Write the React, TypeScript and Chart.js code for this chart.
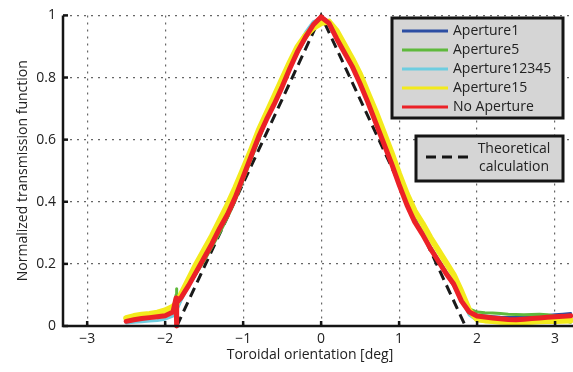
import { useEffect, useRef } from "react";
import { Chart, registerables } from "chart.js";
Chart.register(...registerables);

const FONT = '"Open Sans", "Noto Sans", "DejaVu Sans", sans-serif';

const angles = [-2.5, -2.4, -2.3, -2.2, -2.1, -2.0, -1.9, -1.86, -1.855, -1.85, -1.8, -1.7, -1.6, -1.5, -1.4, -1.3, -1.2, -1.1, -1.0, -0.9, -0.8, -0.7, -0.6, -0.5, -0.4, -0.3, -0.2, -0.1, 0, 0.1, 0.2, 0.3, 0.4, 0.5, 0.6, 0.7, 0.8, 0.9, 1.0, 1.1, 1.2, 1.3, 1.4, 1.5, 1.6, 1.7, 1.8, 1.9, 2.0, 2.1, 2.2, 2.3, 2.4, 2.5, 2.6, 2.7, 2.8, 2.9, 3.0, 3.1, 3.2];

const aperture1 = [0.017, 0.021, 0.025, 0.028, 0.031, 0.035, 0.045, 0.05, 0.052, 0.055, 0.085, 0.13, 0.17, 0.22, 0.27, 0.32, 0.365, 0.42, 0.48, 0.54, 0.605, 0.665, 0.715, 0.77, 0.83, 0.885, 0.935, 0.975, 0.995, 0.98, 0.93, 0.885, 0.84, 0.785, 0.725, 0.66, 0.595, 0.53, 0.465, 0.4, 0.345, 0.3, 0.25, 0.21, 0.17, 0.13, 0.08, 0.045, 0.034, 0.032, 0.03, 0.028, 0.027, 0.027, 0.028, 0.03, 0.032, 0.034, 0.036, 0.038, 0.04];

const aperture5 = [0.016, 0.02, 0.024, 0.027, 0.03, 0.034, 0.045, 0.1, 0.12, 0.1, 0.095, 0.13, 0.17, 0.21, 0.255, 0.3, 0.35, 0.405, 0.47, 0.535, 0.6, 0.665, 0.72, 0.775, 0.83, 0.88, 0.925, 0.965, 0.99, 0.97, 0.925, 0.88, 0.835, 0.78, 0.72, 0.66, 0.595, 0.53, 0.46, 0.4, 0.34, 0.3, 0.255, 0.215, 0.175, 0.14, 0.09, 0.055, 0.045, 0.043, 0.042, 0.04, 0.038, 0.037, 0.036, 0.037, 0.038, 0.036, 0.032, 0.02, 0.012];

const aperture12345 = [0.01, 0.012, 0.014, 0.016, 0.018, 0.022, 0.032, 0.045, 0.047, 0.05, 0.08, 0.13, 0.18, 0.225, 0.27, 0.32, 0.37, 0.425, 0.49, 0.55, 0.615, 0.67, 0.73, 0.79, 0.845, 0.9, 0.945, 0.98, 0.99, 0.975, 0.93, 0.88, 0.835, 0.785, 0.73, 0.665, 0.6, 0.535, 0.465, 0.4, 0.34, 0.3, 0.255, 0.215, 0.175, 0.14, 0.085, 0.035, 0.018, 0.015, 0.014, 0.014, 0.014, 0.015, 0.016, 0.017, 0.018, 0.019, 0.02, 0.021, 0.022];

const aperture15 = [0.025, 0.032, 0.036, 0.039, 0.043, 0.05, 0.062, 0.072, 0.074, 0.077, 0.1, 0.15, 0.2, 0.245, 0.29, 0.34, 0.39, 0.445, 0.505, 0.565, 0.63, 0.685, 0.74, 0.795, 0.85, 0.9, 0.935, 0.96, 0.975, 0.98, 0.95, 0.905, 0.86, 0.81, 0.75, 0.69, 0.625, 0.56, 0.49, 0.425, 0.37, 0.33, 0.285, 0.245, 0.205, 0.165, 0.11, 0.05, 0.022, 0.018, 0.016, 0.014, 0.013, 0.012, 0.013, 0.014, 0.015, 0.016, 0.016, 0.017, 0.018];

const noAperture = [0.015, 0.02, 0.024, 0.027, 0.03, 0.033, 0.045, 0.09, 0.0, 0.075, 0.09, 0.13, 0.175, 0.22, 0.265, 0.315, 0.36, 0.415, 0.48, 0.545, 0.61, 0.665, 0.715, 0.77, 0.83, 0.885, 0.93, 0.97, 0.995, 0.975, 0.925, 0.88, 0.835, 0.78, 0.72, 0.655, 0.59, 0.525, 0.455, 0.39, 0.335, 0.295, 0.25, 0.21, 0.17, 0.135, 0.08, 0.045, 0.032, 0.029, 0.026, 0.023, 0.021, 0.02, 0.022, 0.024, 0.026, 0.028, 0.03, 0.031, 0.033];

const theoryAngles = [-1.85, 0, 1.85];
const theoryValues = [0, 1, 0];

const xTickValues = [-3, -2, -1, 0, 1, 2, 3];
const yTickValues = [0, 0.2, 0.4, 0.6, 0.8, 1];

const seriesNames = ["Aperture1", "Aperture5", "Aperture12345", "Aperture15", "No Aperture"];
const seriesColors = ["#2c4ea3", "#5fb93c", "#6ecde0", "#f3ea1c", "#ec2127"];
const seriesWidths = [3, 3, 3, 6, 5];
const seriesValues = [aperture1, aperture5, aperture12345, aperture15, noAperture];
const theoryLabel = ["Theoretical", "calculation"];
const xTitle = "Toroidal orientation [deg]";
const yTitle = "Normalized transmission function";

const overlayPlugin = {
  id: "overlay",
  afterDatasetsDraw(chart: any) {
    const { ctx, chartArea: ca, scales } = chart;
    const x = scales.x;
    const y = scales.y;
    ctx.save();
    // axis lines
    ctx.strokeStyle = "#151515";
    ctx.lineWidth = 2.5;
    ctx.beginPath();
    ctx.moveTo(ca.left, ca.top);
    ctx.lineTo(ca.left, ca.bottom);
    ctx.lineTo(ca.right, ca.bottom);
    ctx.stroke();
    // inward ticks
    xTickValues.forEach((v) => {
      const px = x.getPixelForValue(v);
      ctx.beginPath();
      ctx.moveTo(px, ca.bottom);
      ctx.lineTo(px, ca.bottom - 5);
      ctx.stroke();
    });
    yTickValues.forEach((v) => {
      const py = y.getPixelForValue(v);
      ctx.beginPath();
      ctx.moveTo(ca.left, py);
      ctx.lineTo(ca.left + 5, py);
      ctx.stroke();
    });
    // axis titles
    ctx.fillStyle = "#222";
    ctx.font = `14px ${FONT}`;
    ctx.textAlign = "center";
    ctx.textBaseline = "middle";
    ctx.fillText(xTitle, 310, 355);
    ctx.save();
    ctx.translate(23, (ca.top + ca.bottom) / 2);
    ctx.rotate(-Math.PI / 2);
    ctx.fillText(yTitle, 0, 0);
    ctx.restore();

    // legend 1
    ctx.fillStyle = "#d5d5d5";
    ctx.fillRect(392, 18, 171, 100);
    ctx.strokeStyle = "#151515";
    ctx.lineWidth = 3;
    ctx.strokeRect(392, 18, 171, 100);
    seriesNames.forEach((name, i) => {
      const ly = 31 + i * 19;
      ctx.strokeStyle = seriesColors[i];
      ctx.lineWidth = 3;
      ctx.beginPath();
      ctx.moveTo(402, ly);
      ctx.lineTo(448, ly);
      ctx.stroke();
      ctx.fillStyle = "#222";
      ctx.textAlign = "left";
      ctx.fillText(name, 453, ly);
    });

    // legend 2
    ctx.fillStyle = "#d5d5d5";
    ctx.fillRect(416, 136, 147, 45);
    ctx.strokeStyle = "#151515";
    ctx.lineWidth = 3;
    ctx.strokeRect(416, 136, 147, 45);
    ctx.setLineDash([10, 6]);
    ctx.beginPath();
    ctx.moveTo(426, 157);
    ctx.lineTo(474, 157);
    ctx.stroke();
    ctx.setLineDash([]);
    ctx.fillStyle = "#222";
    ctx.textAlign = "center";
    ctx.fillText(theoryLabel[0], 514, 149);
    ctx.fillText(theoryLabel[1], 514, 167);
    ctx.restore();
  },
};

export default function App() {
  const ref = useRef<HTMLCanvasElement | null>(null);
  useEffect(() => {
    if (!ref.current) return;
    const datasets: any[] = seriesValues.map((vals, i) => ({
      label: seriesNames[i],
      data: angles.map((a, j) => ({ x: a, y: vals[j] })),
      borderColor: seriesColors[i],
      backgroundColor: seriesColors[i],
      borderWidth: seriesWidths[i],
      borderJoinStyle: "round",
      borderCapStyle: "round",
      pointRadius: 0,
      tension: 0,
      fill: false,
      clip: false,
      order: 10 - i,
    }));
    datasets.push({
      label: "Theoretical calculation",
      data: theoryAngles.map((a, j) => ({ x: a, y: theoryValues[j] })),
      borderColor: "#1a1a1a",
      borderWidth: 3,
      borderDash: [10, 6],
      pointRadius: 0,
      fill: false,
      clip: false,
      order: 20,
    });
    const chart = new Chart(ref.current, {
      type: "line",
      data: { datasets },
      plugins: [overlayPlugin],
      options: {
        responsive: false,
        animation: false,
        devicePixelRatio: 1,
        layout: { padding: { top: 12, right: 0, left: 0, bottom: 0 } },
        plugins: { legend: { display: false }, tooltip: { enabled: false } },
        scales: {
          x: {
            type: "linear",
            min: -3.31,
            max: 3.23,
            afterBuildTicks: (s: any) => {
              s.ticks = xTickValues.map((value) => ({ value }));
            },
            afterFit: (s: any) => {
              s.height = 46;
            },
            ticks: {
              autoSkip: false,
              maxRotation: 0,
              padding: 5,
              color: "#222",
              font: { family: FONT, size: 14 },
              callback: (v: any) => (v < 0 ? "\u2212" + Math.abs(v) : String(v)),
            },
            grid: { color: "#666", lineWidth: 1.2, drawTicks: false },
            border: { display: false, dash: [2, 5] },
          },
          y: {
            type: "linear",
            min: 0,
            max: 1,
            afterBuildTicks: (s: any) => {
              s.ticks = yTickValues.map((value) => ({ value }));
            },
            afterFit: (s: any) => {
              s.width = 63;
            },
            ticks: {
              autoSkip: false,
              padding: 7,
              color: "#222",
              font: { family: FONT, size: 14 },
              callback: (v: any) => String(+Number(v).toFixed(1)),
            },
            grid: { color: "#666", lineWidth: 1.2, drawTicks: false },
            border: { display: false, dash: [2, 5] },
          },
        },
      },
    });
    return () => chart.destroy();
  }, []);
  return (
    <div style={{ position: "fixed", left: 0, top: 0, width: 573, height: 372, background: "#fff" }}>
      <canvas ref={ref} width={573} height={372} />
    </div>
  );
}
